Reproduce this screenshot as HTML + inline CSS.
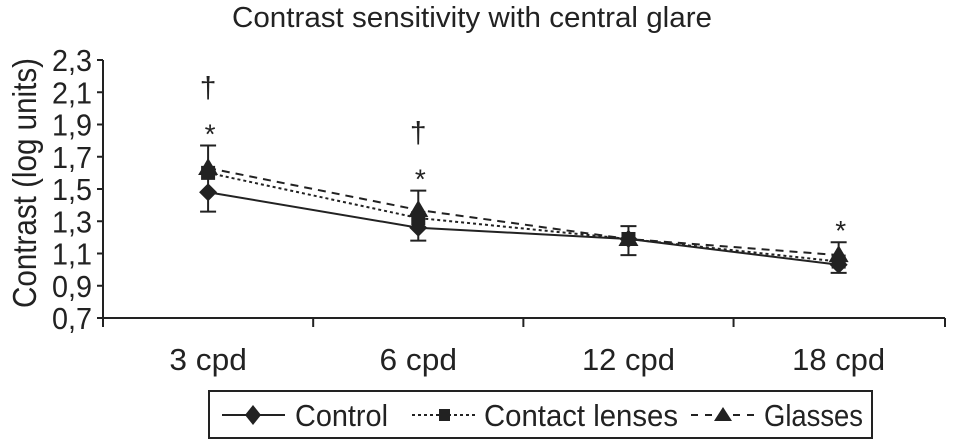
<!DOCTYPE html>
<html><head><meta charset="utf-8"><style>
body{margin:0;background:#fff}
svg{display:block}
text{font-family:"Liberation Sans Narrow","Liberation Sans",sans-serif;fill:#222}
</style></head><body>
<svg id="chart" width="957" height="448" viewBox="0 0 957 448" xmlns="http://www.w3.org/2000/svg">
<text x="232" y="27" font-size="29" textLength="480" lengthAdjust="spacingAndGlyphs">Contrast sensitivity with central glare</text>
<text transform="translate(36,308) rotate(-90)" font-size="33" textLength="250" lengthAdjust="spacingAndGlyphs">Contrast (log units)</text>
<g id="axes"></g>
<g id="series"></g>
<g>
<rect x="209" y="391" width="663" height="47" fill="none" stroke="#222" stroke-width="2"/>
<line x1="222" y1="415" x2="285" y2="415" stroke="#222" stroke-width="2"/>
<path d="M253 405 L261 415 L253 425 L245 415Z" fill="#222"/>
<text x="295" y="426" font-size="31" textLength="93" lengthAdjust="spacingAndGlyphs">Control</text>
<line x1="412" y1="415" x2="478" y2="415" stroke="#222" stroke-width="2" stroke-dasharray="3,3"/>
<rect x="439" y="409" width="11" height="12" fill="#222"/>
<text x="484" y="426" font-size="31" textLength="194" lengthAdjust="spacingAndGlyphs">Contact lenses</text>
<line x1="691" y1="415" x2="755" y2="415" stroke="#222" stroke-width="2" stroke-dasharray="7,7"/>
<path d="M723 407 L732 421 L714 421Z" fill="#222"/>
<text x="764" y="426" font-size="31" textLength="99" lengthAdjust="spacingAndGlyphs">Glasses</text>
</g>
</svg>
<script>
const categories=["3 cpd","6 cpd","12 cpd","18 cpd"];
const yTicks=["0,7","0,9","1,1","1,3","1,5","1,7","1,9","2,1","2,3"];
const control=[1.48,1.26,1.19,1.03];
const contact=[1.60,1.32,1.19,1.05];
const glasses=[1.63,1.37,1.19,1.09];
const errTop=[1.77,1.49,1.27,1.17];
const errBot=[1.36,1.18,1.09,0.98];
const topMarks=["†","†","",""];
const starMarks=["*","*","","*"];
const ns="http://www.w3.org/2000/svg";
const X0=103,X1=945,Y0=318,Y1=60,ymin=0.7,ymax=2.3;
const bw=(X1-X0)/categories.length*0.9985;
function x(i){return X0+bw*(i+0.5);}
function y(v){return Y0-(v-ymin)/(ymax-ymin)*(Y0-Y1);}
function mk(tag,a,p){const e=document.createElementNS(ns,tag);for(const k in a)e.setAttribute(k,a[k]);p.appendChild(e);return e;}
const ax=document.getElementById('axes'),se=document.getElementById('series');
const ya=mk('line',{x1:X0,y1:Y1,x2:X0,y2:Y0+2,stroke:'#222','stroke-width':2},ax);


const xa=mk('line',{x1:X0,y1:Y0,x2:X1,y2:Y0,stroke:'#222','stroke-width':2},ax);


yTicks.forEach((t,i)=>{const v=ymin+i*0.2,yy=y(v);
mk('line',{x1:X0-6,y1:yy,x2:X0,y2:yy,stroke:'#222','stroke-width':2},ax);
const tx=mk('text',{x:52,y:yy+11,'font-size':31,textLength:40,lengthAdjust:'spacingAndGlyphs'},ax);tx.textContent=t;

});
categories.forEach((c,i)=>{const tx0=X0+bw*i;
mk('line',{x1:tx0,y1:Y0,x2:tx0,y2:Y0+9,stroke:'#222','stroke-width':2},ax);
const w=c.length*15.5;
const tx=mk('text',{x:x(i)-w/2,y:370,'font-size':31,textLength:w,lengthAdjust:'spacingAndGlyphs'},ax);tx.textContent=c;

});
mk('line',{x1:X1,y1:Y0,x2:X1,y2:Y0+9,stroke:'#222','stroke-width':2},ax);
categories.forEach((c,i)=>{const g=mk('g',{stroke:'#222','stroke-width':2},se);


mk('line',{x1:x(i),y1:y(errTop[i]),x2:x(i),y2:y(errBot[i])},g);
mk('line',{x1:x(i)-8,y1:y(errTop[i]),x2:x(i)+8,y2:y(errTop[i])},g);
mk('line',{x1:x(i)-8,y1:y(errBot[i]),x2:x(i)+8,y2:y(errBot[i])},g);
if(topMarks[i]){const t=mk('text',{x:x(i),y:y(errTop[i])-48,'font-size':30,'text-anchor':'middle'},se);t.textContent=topMarks[i];

}
if(starMarks[i]){const t=mk('text',{x:x(i)+2,y:y(errTop[i])-2,'font-size':28,'text-anchor':'middle'},se);t.textContent=starMarks[i];

}});
function series(vals,dash,shape,name){const g=mk('g',{},se);


mk('polyline',{points:vals.map((v,i)=>x(i)+','+y(v)).join(' '),fill:'none',stroke:'#222','stroke-width':2,'stroke-dasharray':dash},g);
vals.forEach((v,i)=>{const cx=x(i),cy=y(v);let m;
if(shape==='d')m=mk('path',{d:`M${cx} ${cy-9}L${cx+9} ${cy}L${cx} ${cy+9}L${cx-9} ${cy}Z`,fill:'#222'},g);
else if(shape==='s')m=mk('rect',{x:cx-7,y:cy-7,width:14,height:14,fill:'#222'},g);
else m=mk('path',{d:`M${cx} ${cy-10}L${cx+10} ${cy+7}L${cx-10} ${cy+7}Z`,fill:'#222'},g);

});}
series(glasses,'8,6','t','series-glasses');
series(contact,'3,3','s','series-contact-lenses');
series(control,'','d','series-control');
</script>
</body></html>
